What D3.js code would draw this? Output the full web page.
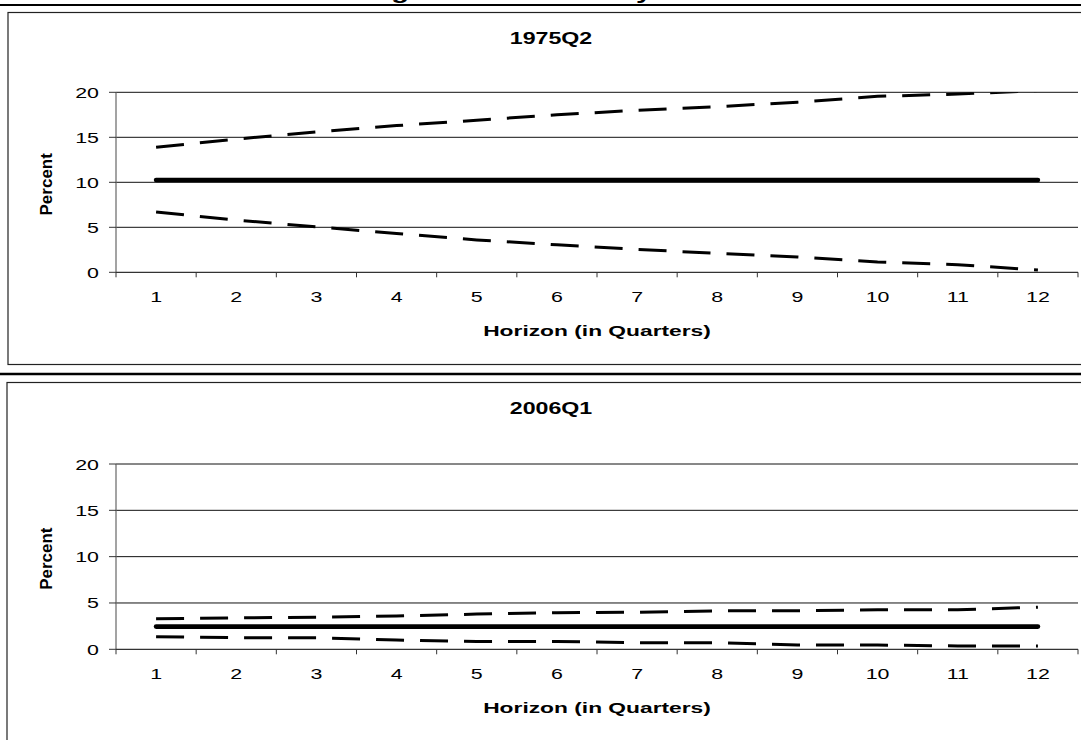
<!DOCTYPE html>
<html>
<head>
<meta charset="utf-8">
<script src="https://cdn.jsdelivr.net/npm/d3@7"></script>
<style>
  html, body { margin: 0; padding: 0; background: #fff; }
  svg { display: block; }
  text { font-family: "Liberation Sans", Arial, sans-serif; fill: #000; }
</style>
</head>
<body>
<script>
// horizon categories and y ticks
const horizons = [1, 2, 3, 4, 5, 6, 7, 8, 9, 10, 11, 12]
const yTicks = [0, 5, 10, 15, 20]

// 1975Q2 panel
const mid1975 = [10.25, 10.25, 10.25, 10.25, 10.25, 10.25, 10.25, 10.25, 10.25, 10.25, 10.25, 10.25]
const upper1975 = [13.9, 14.8, 15.6, 16.3, 16.9, 17.5, 18.0, 18.4, 18.9, 19.55, 19.8, 20.2]
const lower1975 = [6.7, 5.8, 5.05, 4.3, 3.6, 3.05, 2.55, 2.1, 1.7, 1.15, 0.85, 0.25]

// 2006Q1 panel
const mid2006 = [2.45, 2.45, 2.45, 2.45, 2.45, 2.45, 2.45, 2.45, 2.45, 2.45, 2.45, 2.45]
const upper2006 = [3.3, 3.4, 3.45, 3.6, 3.8, 3.95, 4.0, 4.15, 4.15, 4.27, 4.27, 4.55]
const lower2006 = [1.35, 1.25, 1.25, 1.0, 0.85, 0.85, 0.72, 0.72, 0.46, 0.46, 0.36, 0.36]

const width = 1081
const height = 740
const font = '"Liberation Sans", Arial, sans-serif'

var svg = d3.select("body")
  .append("svg")
    .attr("width", width)
    .attr("height", height)

// text in the picture is wider than normal Arial, so stretch it sideways
function stretchText(g, str, x, y, size, sx, anchor, bold) {
  return g.append("text")
    .attr("transform", "translate(" + x + "," + y + ") scale(" + sx + ",1)")
    .attr("text-anchor", anchor)
    .attr("font-size", size + "px")
    .attr("font-weight", bold ? "bold" : "normal")
    .text(str)
}

// page title, cut off at the top edge
stretchText(svg, "Inflation Range and Uncertainty", 434, -1.5, 20, 1.45, "middle", true)

svg.append("line")
  .attr("x1", 0).attr("x2", width)
  .attr("y1", 5).attr("y2", 5)
  .attr("stroke", "#000").attr("stroke-width", 2)

svg.append("line")
  .attr("x1", 0).attr("x2", width)
  .attr("y1", 374).attr("y2", 374)
  .attr("stroke", "#000").attr("stroke-width", 2.5)

var x = d3.scaleBand()
  .domain(horizons)
  .range([116, 1078])

function drawPanel(opts) {
  var g = svg.append("g")

  g.append("rect")
    .attr("x", opts.box[0]).attr("y", opts.box[1])
    .attr("width", 1200).attr("height", opts.box[2])
    .attr("fill", "none")
    .attr("stroke", "#222")
    .attr("stroke-width", 1.2)

  var y = d3.scaleLinear()
    .domain([0, 20])
    .range([opts.bottom, opts.top])

  var left = x.range()[0], right = x.range()[1]

  // gridlines
  g.selectAll(".grid")
    .data(yTicks.filter(d => d > 0))
    .enter()
    .append("line")
    .attr("x1", left).attr("x2", right)
    .attr("y1", d => y(d)).attr("y2", d => y(d))
    .attr("stroke", "#111")
    .attr("stroke-width", 1)

  // y axis
  g.append("line")
    .attr("x1", left).attr("x2", left)
    .attr("y1", y(0)).attr("y2", y(20))
    .attr("stroke", "#666").attr("stroke-width", 1.2)

  g.selectAll(".ytick")
    .data(yTicks)
    .enter()
    .append("line")
    .attr("x1", left - 7).attr("x2", left)
    .attr("y1", d => y(d)).attr("y2", d => y(d))
    .attr("stroke", "#333").attr("stroke-width", 1)

  yTicks.forEach(function(d) {
    stretchText(g, d, 99, y(d) + 5.5, 15.5, 1.38, "end", false)
  })

  // x axis
  g.append("line")
    .attr("x1", left).attr("x2", right)
    .attr("y1", y(0)).attr("y2", y(0))
    .attr("stroke", "#333").attr("stroke-width", 1.2)

  var edges = horizons.map(d => x(d)).concat([right])
  g.selectAll(".xtick")
    .data(edges)
    .enter()
    .append("line")
    .attr("x1", d => d).attr("x2", d => d)
    .attr("y1", y(0)).attr("y2", y(0) + 5)
    .attr("stroke", "#333").attr("stroke-width", 1)

  horizons.forEach(function(d) {
    stretchText(g, d, x(d) + x.bandwidth() / 2, y(0) + 29.5, 15.5, 1.38, "middle", false)
  })

  // titles
  stretchText(g, opts.title, 551, opts.titleY, 16, 1.45, "middle", true)
  stretchText(g, "Horizon (in Quarters)", 597, y(0) + 63.5, 15.5, 1.47, "middle", true)

  g.append("text")
    .attr("transform", "translate(52," + ((y(0) + y(20)) / 2 + 2) + ") rotate(-90)")
    .attr("text-anchor", "middle")
    .attr("font-size", "17px")
    .attr("font-weight", "bold")
    .text("Percent")

  // series, clipped to the plot area
  var clipId = "clip" + opts.title
  svg.append("clipPath")
    .attr("id", clipId)
    .append("rect")
      .attr("x", left).attr("y", y(20))
      .attr("width", right - left).attr("height", y(0) - y(20))

  var line = d3.line()
    .x((d, i) => x(horizons[i]) + x.bandwidth() / 2)
    .y(d => y(d))

  var plot = g.append("g").attr("clip-path", "url(#" + clipId + ")")

  plot.append("path")
    .attr("d", line(opts.mid))
    .attr("fill", "none")
    .attr("stroke", "#000")
    .attr("stroke-width", 4.6)
    .attr("stroke-linecap", "round")

  ;[opts.upper, opts.lower].forEach(function(s) {
    plot.append("path")
      .attr("d", line(s))
      .attr("fill", "none")
      .attr("stroke", "#000")
      .attr("stroke-width", 3)
      .attr("stroke-dasharray", "28,16")
  })
}

drawPanel({
  title: "1975Q2",
  titleY: 43.5,
  box: [8, 12.5, 352],
  top: 92.3,
  bottom: 272.3,
  mid: mid1975,
  upper: upper1975,
  lower: lower1975
})

drawPanel({
  title: "2006Q1",
  titleY: 413.5,
  box: [7, 382.5, 400],
  top: 464,
  bottom: 649.3,
  mid: mid2006,
  upper: upper2006,
  lower: lower2006
})
</script>
</body>
</html>
